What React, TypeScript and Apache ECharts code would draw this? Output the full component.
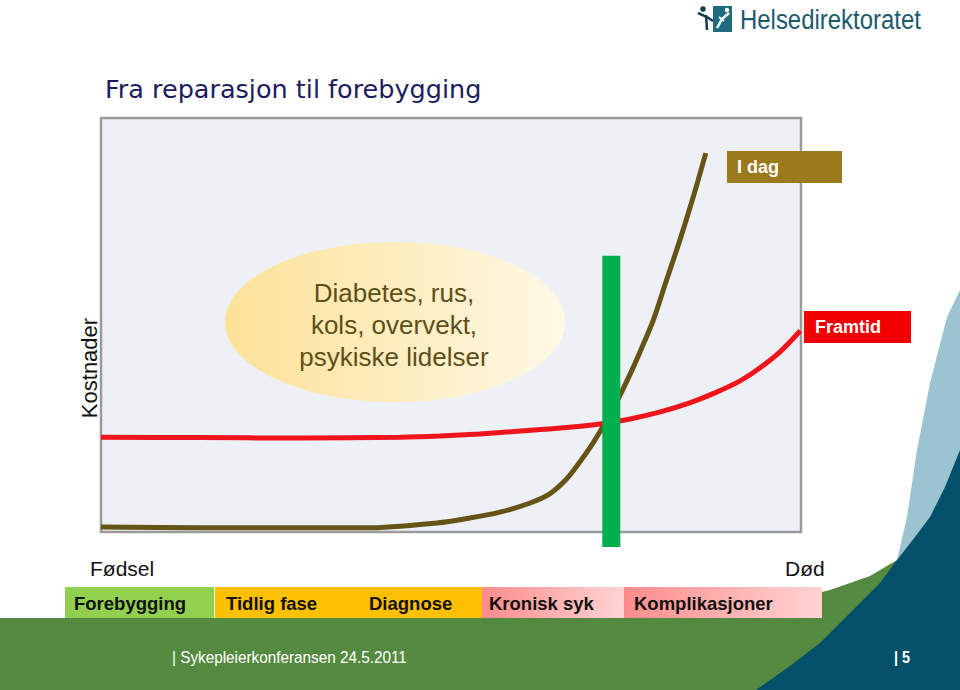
import React, { useEffect, useRef } from "react";
import * as echarts from "echarts";

// Life course (0 = birth, 100 = death) vs cost (relative units)
const todayCurve: [number, number][] = [
  [0, 1.2], [14.1, 1.0], [28.4, 1.0], [37.9, 1.0], [48.0, 2.2], [52.7, 3.4],
  [57.0, 4.8], [61.3, 7.0], [64.1, 9.2], [66.4, 12.6], [68.4, 16.9], [69.9, 20.5],
  [71.4, 24.6], [72.7, 28.5], [74.1, 32.9], [75.6, 38.2], [77.0, 43.5],
  [78.9, 51.2], [80.7, 60.4], [82.7, 70.5], [84.6, 80.9], [86.4, 91.5],
];
const futureCurve: [number, number][] = [
  [0, 22.9], [14.1, 22.8], [28.4, 22.7], [42.7, 22.9], [48.4, 23.2], [54.1, 23.7],
  [60.0, 24.4], [65.6, 25.1], [71.3, 26.1], [75.6, 27.3], [79.9, 29.0], [84.1, 31.2],
  [87.7, 33.6], [91.3, 36.5], [94.1, 39.6], [97.0, 43.5], [99.9, 48.6],
];
// vertical green marker: [x, yFrom, yTo]
const markerBar: [number, number, number][] = [[72.9, -3.6, 66.7]];

const titleText = "Fra reparasjon til forebygging";
const yAxisName = "Kostnader";
const startLabel = "Fødsel";
const endLabel = "Død";
const todayLabel = "I dag";
const futureLabel = "Framtid";
const diseaseLines = ["Diabetes, rus,", "kols, overvekt,", "psykiske lidelser"];
const phaseNames = ["Forebygging", "Tidlig fase", "Diagnose", "Kronisk syk", "Komplikasjoner"];
const footerText = "| Sykepleierkonferansen 24.5.2011";
const pageText = "| 5";
const logoText = "Helsedirektoratet";

export default function App() {
  const ref = useRef<HTMLDivElement>(null);
  useEffect(() => {
    if (!ref.current) return;
    const chart = echarts.init(ref.current, undefined, { renderer: "svg" });
    const sans = "'Liberation Sans', Arial, sans-serif";

    const pinkGrad = () =>
      new echarts.graphic.LinearGradient(0, 0, 1, 0, [
        { offset: 0, color: "#ff8c8c" },
        { offset: 1, color: "#ffd3d3" },
      ]);

    const graphic: any[] = [
      // background shapes at bottom
      {
        type: "polygon", z: 0, silent: true,
        shape: {
          points: [[0, 618], [300, 618], [600, 616], [700, 611], [780, 602], [830, 590], [870, 576], [897, 560], [897, 690], [0, 690]],
        },
        style: { fill: "#548a3f" },
      },
      {
        type: "polygon", z: 0, silent: true,
        shape: {
          points: [[897, 560], [907, 517], [917, 450], [930, 383], [947, 317], [960, 290], [960, 690], [897, 690]],
        },
        style: { fill: "#9bc4d0" },
      },
      {
        type: "polygon", z: 0, silent: true,
        shape: {
          points: [[756, 690], [790, 666], [820, 643], [853, 610], [880, 583], [897, 560], [915, 537], [930, 517], [945, 487], [960, 450], [960, 690]],
        },
        style: { fill: "#03506a" },
      },
      // ellipse
      {
        type: "ellipse", z: 1, silent: true,
        shape: { cx: 395, cy: 322, rx: 170, ry: 80 },
        style: {
          fill: new echarts.graphic.LinearGradient(0, 0, 1, 0, [
            { offset: 0, color: "#fde297" },
            { offset: 1, color: "#fef8e6" },
          ]),
        },
      },
      ...diseaseLines.map((t, i) => ({
        type: "text", z: 2, silent: true,
        style: {
          text: t, x: 394, y: 293 + i * 32, align: "center", verticalAlign: "middle",
          font: `26px ${sans}`, fill: "#5e4e18",
        },
      })),
      // y axis name
      {
        type: "text", z: 5, x: 89, y: 368, rotation: Math.PI / 2,
        style: { text: yAxisName, x: 0, y: 0, align: "center", verticalAlign: "middle", font: `22px ${sans}`, fill: "#111111" },
      },
      // labels boxes
      { type: "rect", z: 5, shape: { x: 727, y: 151, width: 115, height: 32 }, style: { fill: "#9a7a1d" } },
      { type: "text", z: 6, style: { text: todayLabel, x: 737, y: 167, verticalAlign: "middle", font: `bold 18px ${sans}`, fill: "#ffffff" } },
      { type: "rect", z: 5, shape: { x: 804, y: 311, width: 107, height: 32 }, style: { fill: "#f20000" } },
      { type: "text", z: 6, style: { text: futureLabel, x: 815, y: 327, verticalAlign: "middle", font: `bold 18px ${sans}`, fill: "#ffffff" } },
      // axis end labels
      { type: "text", z: 5, style: { text: startLabel, x: 90, y: 568, verticalAlign: "middle", font: `21px ${sans}`, fill: "#111111" } },
      { type: "text", z: 5, style: { text: endLabel, x: 785, y: 568, verticalAlign: "middle", font: `21px ${sans}`, fill: "#111111" } },
      // phase bar
      { type: "rect", z: 5, shape: { x: 65, y: 587, width: 149, height: 31 }, style: { fill: "#92d050" } },
      { type: "rect", z: 5, shape: { x: 215, y: 587, width: 267, height: 31 }, style: { fill: "#ffc000" } },
      { type: "rect", z: 5, shape: { x: 482, y: 587, width: 142, height: 31 }, style: { fill: pinkGrad() } },
      { type: "rect", z: 5, shape: { x: 624, y: 587, width: 198, height: 31 }, style: { fill: pinkGrad() } },
      ...phaseNames.map((t, i) => ({
        type: "text", z: 6,
        style: {
          text: t, x: [74, 226, 369, 489, 634][i], y: 603, verticalAlign: "middle",
          font: `bold 18.5px ${sans}`, fill: "#111111",
        },
      })),
      // footer
      { type: "text", z: 6, x: 172, y: 657, scaleX: 0.9, style: { text: footerText, x: 0, y: 0, verticalAlign: "middle", font: `17px ${sans}`, fill: "#ffffff" } },
      { type: "text", z: 6, x: 894, y: 657, scaleX: 0.85, style: { text: pageText, x: 0, y: 0, verticalAlign: "middle", font: `bold 17px ${sans}`, fill: "#ffffff" } },
      // logo
      { type: "rect", z: 6, shape: { x: 713, y: 6, width: 19, height: 26 }, style: { fill: "#1d6b7d" } },
      { type: "polyline", z: 7, shape: { points: [[717, 28], [722, 19], [729, 13]] }, style: { stroke: "#ffffff", lineWidth: 2.5, fill: "none" } },
      { type: "polyline", z: 7, shape: { points: [[719, 17], [724, 21]] }, style: { stroke: "#ffffff", lineWidth: 2, fill: "none" } },
      { type: "circle", z: 7, shape: { cx: 727, cy: 10, r: 2.2 }, style: { fill: "#ffffff" } },
      { type: "circle", z: 7, shape: { cx: 703, cy: 9, r: 2.8 }, style: { fill: "#153d4a" } },
      { type: "polyline", z: 7, shape: { points: [[698, 13], [707, 17], [713, 21]] }, style: { stroke: "#153d4a", lineWidth: 2.5, fill: "none" } },
      { type: "polyline", z: 7, shape: { points: [[706, 15], [707, 30]] }, style: { stroke: "#153d4a", lineWidth: 2.5, fill: "none" } },
      { type: "text", z: 6, x: 740, y: 19, scaleX: 0.855, style: { text: logoText, x: 0, y: 0, verticalAlign: "middle", font: `28px ${sans}`, fill: "#1d5a6d" } },
    ];

    chart.setOption({
      animation: false,
      backgroundColor: "#ffffff",
      title: {
        text: titleText,
        left: 105,
        top: 76,
        padding: 0,
        textStyle: { fontFamily: "'DejaVu Sans', Verdana, sans-serif", fontSize: 25.5, fontWeight: "normal", color: "#1c1c5e" },
      },
      grid: {
        left: 101, top: 118, width: 700, height: 414,
        show: true, backgroundColor: "#edf0f4", borderColor: "#9a9a9a", borderWidth: 2.5,
      },
      xAxis: {
        type: "value", min: 0, max: 100, show: false,
      },
      yAxis: {
        type: "value", min: 0, max: 100, show: false,
      },
      graphic,
      series: [
        {
          name: todayLabel, type: "line", data: todayCurve, smooth: 0.3,
          showSymbol: false, symbol: "none", z: 3,
          lineStyle: { color: "#655416", width: 5 },
        },
        {
          name: futureLabel, type: "line", data: futureCurve, smooth: 0.3,
          showSymbol: false, symbol: "none", z: 3,
          lineStyle: { color: "#f0141c", width: 5 },
        },
        {
          type: "custom", z: 4, clip: false,
          data: markerBar,
          encode: { x: 0, y: [1, 2] },
          renderItem: (params: any, api: any) => {
            const x = api.value(0);
            const p0 = api.coord([x, api.value(1)]);
            const p1 = api.coord([x, api.value(2)]);
            return {
              type: "rect",
              shape: { x: p0[0] - 9, y: p1[1], width: 18, height: p0[1] - p1[1] },
              style: { fill: "#00b04f" },
            };
          },
        },
      ],
    });
    return () => chart.dispose();
  }, []);
  return <div ref={ref} style={{ width: 960, height: 690, position: "absolute", left: 0, top: 0 }} />;
}
